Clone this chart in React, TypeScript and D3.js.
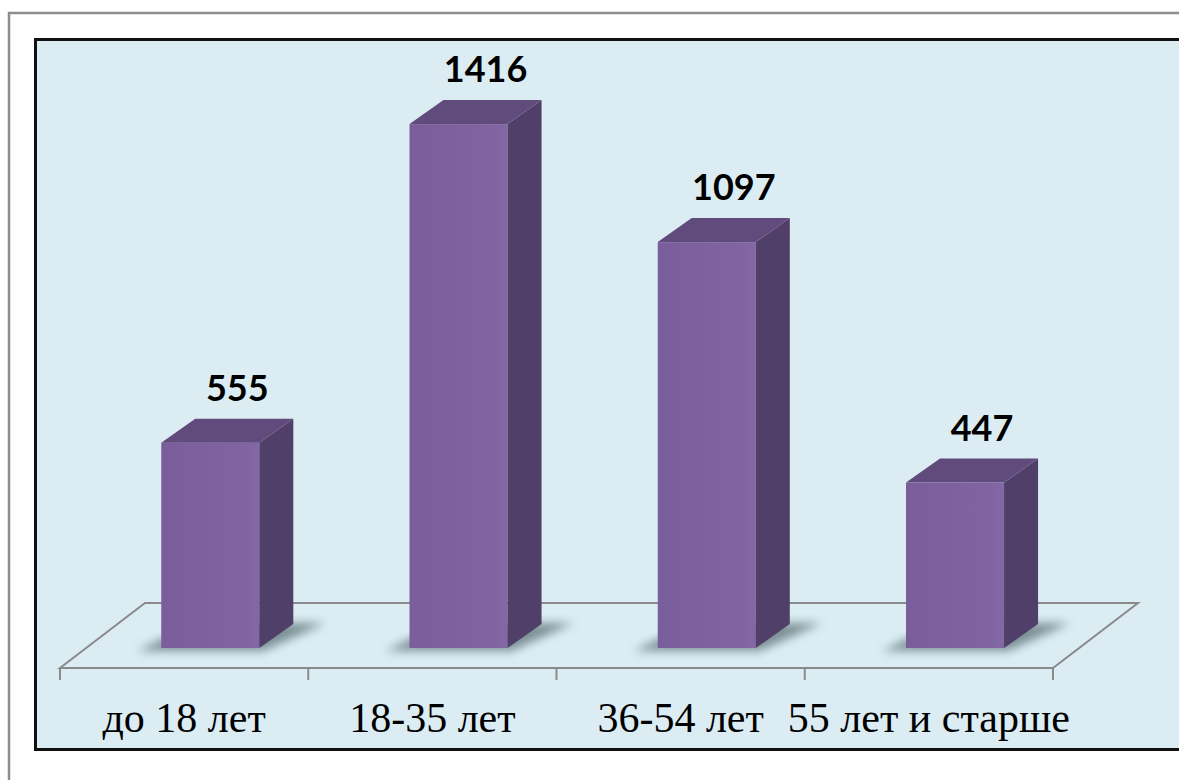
import React from 'react';
import * as d3 from 'd3';

const categories = ['до 18 лет', '18-35 лет', '36-54 лет', '55 лет и старше'];
const values = [555, 1416, 1097, 447];

const W = 1179;
const H = 780;

export default function App() {
  // floor geometry (pseudo 3D)
  const floorFront = 668;
  const depthX = 85;
  const depthY = -65;
  const baseY = 648; // bar front bottom

  const x = d3.scaleBand<string>().domain(categories).range([60, 1053]).padding(0);
  const y = d3.scaleLinear().domain([0, 1500]).range([baseY, baseY - 1500 * 0.37]);

  const barW = x.bandwidth() * 0.395;
  const shift = ((floorFront - baseY) * depthX) / -depthY; // bar sits a bit back on the floor
  const bdx = 34;
  const bdy = -24;

  const ticks = [...categories.map(c => x(c)!), x.range()[1]];

  const pts = (p: number[][]) => p.map(q => q.join(',')).join(' ');

  return (
    <svg width={W} height={H} style={{ position: 'absolute', left: 0, top: 0, display: 'block' }}>
      <defs>
        <filter id="blur" x="-50%" y="-50%" width="200%" height="200%">
          <feGaussianBlur stdDeviation="5" />
        </filter>
        <linearGradient id="front" x1="0" x2="1" y1="0" y2="0">
          <stop offset="0%" stopColor="#7a5e9c" />
          <stop offset="85%" stopColor="#8064a2" />
          <stop offset="100%" stopColor="#8468a6" />
        </linearGradient>
      </defs>

      {/* outer frame */}
      <rect x={9} y={13} width={W + 20} height={H + 20} fill="#fff" stroke="#8e8e8e" strokeWidth={2.5} />
      {/* plot area */}
      <rect x={35.5} y={39.5} width={W} height={710} fill="#dbedf3" stroke="#111" strokeWidth={3} />

      {/* floor */}
      <g stroke="#8a8a8a" strokeWidth={2} fill="none">
        <polygon
          points={pts([
            [60, floorFront],
            [60 + depthX, floorFront + depthY],
            [1053 + depthX, floorFront + depthY],
            [1053, floorFront],
          ])}
        />
        {ticks.map((t, i) => (
          <line key={i} x1={t} x2={t} y1={floorFront} y2={floorFront + 12} />
        ))}
      </g>

      {/* bars */}
      {categories.map((c, i) => {
        const x0 = x(c)! + x.bandwidth() / 2 + shift - barW / 2;
        const x1 = x0 + barW;
        const yt = y(values[i]);
        return (
          <g key={c}>
            <polygon
              points={pts([
                [x0 - 24, baseY + 3],
                [x1 + 4, baseY + 3],
                [x1 + bdx + 32, baseY + bdy - 1],
                [x0 + bdx, baseY + bdy - 1],
              ])}
              fill="#4a5e64"
              opacity={0.65}
              filter="url(#blur)"
            />
            <rect x={x0} y={yt} width={barW} height={baseY - yt} fill="url(#front)" />
            <polygon
              points={pts([[x1, yt], [x1 + bdx, yt + bdy], [x1 + bdx, baseY + bdy], [x1, baseY]])}
              fill="#503f68"
            />
            <polygon
              points={pts([[x0, yt], [x0 + bdx, yt + bdy], [x1 + bdx, yt + bdy], [x1, yt]])}
              fill="#604b7c"
            />
            <text
              x={x0 + barW / 2 + 27}
              y={yt + bdy - 18}
              textAnchor="middle"
              fontFamily="Lato, 'Open Sans', sans-serif"
              fontWeight="bold"
              fontSize={36}
              fill="#000"
            >
              {values[i]}
            </text>
          </g>
        );
      })}

      {/* category labels */}
      {categories.map(c => (
        <text
          key={c}
          x={x(c)! + x.bandwidth() / 2}
          y={732}
          textAnchor="middle"
          fontFamily="'Liberation Serif', 'Times New Roman', serif"
          fontSize={42}
          fill="#000"
        >
          {c}
        </text>
      ))}
    </svg>
  );
}
